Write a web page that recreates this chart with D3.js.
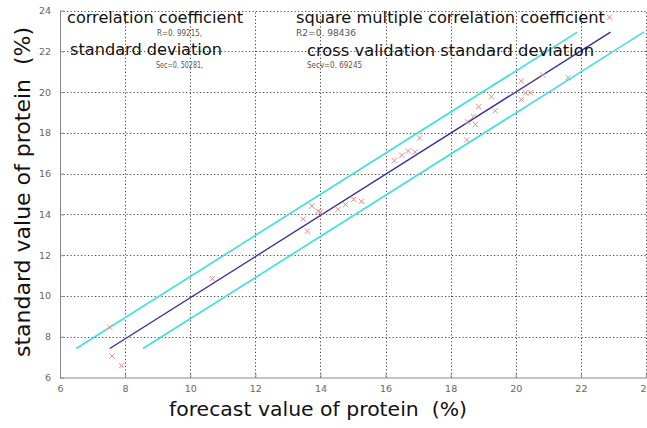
<!DOCTYPE html>
<html>
<head>
<meta charset="utf-8">
<script src="https://cdn.jsdelivr.net/npm/d3@7"></script>
<style>
  html, body { margin: 0; padding: 0; background: #fff; }
  svg { display: block; }
  text { white-space: pre; }
</style>
</head>
<body>
<svg id="chart" width="647" height="428"></svg>
<script>
// ---- data ----
const forecastValues = [7.53, 7.60, 7.89, 10.68, 13.47, 13.60, 13.74, 13.93, 14.00, 14.54, 14.77, 15.02, 15.26,
  16.27, 16.50, 16.70, 16.91, 17.04, 18.49, 18.52, 18.70, 18.76, 18.86, 19.25, 19.37,
  20.17, 20.17, 20.30, 20.45, 20.83, 21.61, 22.88];
const standardValues = [8.46, 7.05, 6.58, 10.85, 13.77, 13.18, 14.41, 14.15, 14.11, 14.25, 14.48, 14.74, 14.64,
  16.64, 16.90, 17.11, 17.06, 17.75, 17.65, 18.54, 18.79, 18.41, 19.28, 19.77, 19.08,
  20.54, 19.63, 19.96, 19.96, 20.84, 20.71, 23.67];
const lineYEnds = [7.42, 22.94];
const fitLineX = [7.53, 22.91];
const upperLineX = [6.50, 21.89];
const lowerLineX = [8.55, 23.93];
const xTicks = [6, 8, 10, 12, 14, 16, 18, 20, 22, 24];
const yTicks = [6, 8, 10, 12, 14, 16, 18, 20, 22, 24];
const statLabels = ["correlation coefficient", "standard deviation", "square multiple correlation coefficient", "cross validation standard deviation"];
const statValues = ["R=0. 99215,", "Sec=0. 50281,", "R2=0. 98436", "Secv=0. 69245"];
const xTitle = "forecast value of protein  (%)";
const yTitle = "standard value of protein  (%)";

// ---- drawing ----
const svg = d3.select("#chart");
const x = d3.scaleLinear().domain([6, 24]).range([60, 646]);
const y = d3.scaleLinear().domain([6, 24]).range([377.5, 10.5]);

// grid
const grid = svg.append("g").attr("stroke", "#444").attr("stroke-width", 1).attr("stroke-dasharray", "1.2,2.3");
grid.selectAll("line.v").data(xTicks.slice(1)).join("line")
  .attr("x1", d => Math.round(x(d)) + 0.5).attr("x2", d => Math.round(x(d)) + 0.5)
  .attr("y1", y(6)).attr("y2", y(24));
grid.selectAll("line.h").data(yTicks.slice(1)).join("line")
  .attr("y1", d => Math.round(y(d)) + 0.5).attr("y2", d => Math.round(y(d)) + 0.5)
  .attr("x1", x(6)).attr("x2", x(24));

// axes
const xAxis = d3.axisBottom(x).tickValues(xTicks).tickSizeInner(-4).tickSizeOuter(0).tickPadding(8);
const yAxis = d3.axisLeft(y).tickValues(yTicks).tickSizeInner(-4).tickSizeOuter(0).tickPadding(9);
const gx = svg.append("g").attr("transform", `translate(0,${y(6)})`).call(xAxis);
const gy = svg.append("g").attr("transform", `translate(${x(6)},0)`).call(yAxis);
[gx, gy].forEach(g => {
  g.select(".domain").attr("stroke", "#888");
  g.selectAll(".tick line").attr("stroke", "#888");
  g.selectAll(".tick text").attr("fill", "#666").attr("font-family", "DejaVu Sans, sans-serif").attr("font-size", 9.5);
});

// lines
const line = d3.line().x(d => x(d[0])).y(d => y(d[1]));
const mk = xs => xs.map((v, i) => [v, lineYEnds[i]]);
svg.append("path").attr("d", line(mk(upperLineX))).attr("stroke", "#45e0dc").attr("stroke-width", 1.7).attr("fill", "none");
svg.append("path").attr("d", line(mk(lowerLineX))).attr("stroke", "#45e0dc").attr("stroke-width", 1.7).attr("fill", "none");
svg.append("path").attr("d", line(mk(fitLineX))).attr("stroke", "#3328a8").attr("stroke-width", 1.3).attr("fill", "none");

// points
const sym = d3.symbol().type(d3.symbolTimes).size(20);
svg.append("g").selectAll("path").data(forecastValues.map((f, i) => [f, standardValues[i]])).join("path")
  .attr("d", sym)
  .attr("transform", d => `translate(${x(d[0])},${y(d[1])})`)
  .attr("fill", "none").attr("stroke", "#e88c8c").attr("stroke-width", 1);

// stat texts
const bigPos = [[67, 23, 176], [70, 55, 152], [296, 23, 309], [307, 56, 287]];
const smallPos = [[157, 36, 45], [156, 68, 47], [296, 36, 60], [307, 68, 55]];
svg.append("g").selectAll("text").data(statLabels).join("text")
  .attr("x", (d, i) => bigPos[i][0]).attr("y", (d, i) => bigPos[i][1])
  .attr("textLength", (d, i) => bigPos[i][2]).attr("lengthAdjust", "spacingAndGlyphs")
  .attr("font-family", "DejaVu Sans, sans-serif").attr("font-size", 16).attr("fill", "#111")
  .text(d => d);
svg.append("g").selectAll("text").data(statValues).join("text")
  .attr("x", (d, i) => smallPos[i][0]).attr("y", (d, i) => smallPos[i][1])
  .attr("textLength", (d, i) => smallPos[i][2]).attr("lengthAdjust", "spacingAndGlyphs")
  .attr("font-family", "DejaVu Sans, sans-serif").attr("font-size", 8.5).attr("fill", "#555")
  .text(d => d);

// axis titles
svg.append("text").attr("x", 318).attr("y", 416).attr("text-anchor", "middle")
  .attr("textLength", 298).attr("lengthAdjust", "spacingAndGlyphs")
  .attr("font-family", "DejaVu Sans, sans-serif").attr("font-size", 20).attr("fill", "#111")
  .text(xTitle);
svg.append("text").attr("transform", "translate(30,192) rotate(-90)").attr("text-anchor", "middle")
  .attr("textLength", 330).attr("lengthAdjust", "spacingAndGlyphs")
  .attr("font-family", "DejaVu Sans, sans-serif").attr("font-size", 22).attr("fill", "#111")
  .text(yTitle);
</script>
</body>
</html>
